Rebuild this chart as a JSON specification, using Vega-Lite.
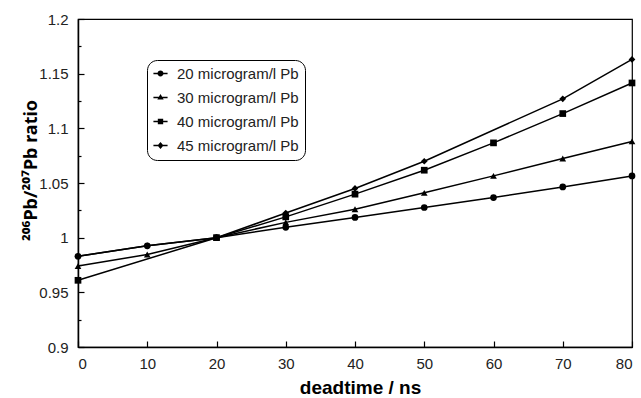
{
  "$schema": "https://vega.github.io/schema/vega-lite/v6.json",
  "autosize": {"type": "none"},
  "width": 554,
  "height": 328,
  "padding": {"left": 78, "top": 19, "right": 9, "bottom": 51},
  "background": "white",
  "config": {
    "view": {"stroke": "black", "strokeWidth": 1.2},
    "font": "Liberation Sans",
    "axis": {
      "domainColor": "black", "domainWidth": 1.5, "tickColor": "black", "tickWidth": 1.2,
      "labelFont": "Liberation Sans", "labelFontSize": 15, "labelColor": "#222",
      "titleFont": "Liberation Sans", "titleFontSize": 19, "titleFontWeight": "bold", "titleColor": "black",
      "grid": false
    }
  },
  "data": {
    "values": [
      {"t": 0, "r": 0.983, "s": "20 microgram/l Pb"},
      {"t": 10, "r": 0.9925, "s": "20 microgram/l Pb"},
      {"t": 20, "r": 1.0, "s": "20 microgram/l Pb"},
      {"t": 30, "r": 1.0095, "s": "20 microgram/l Pb"},
      {"t": 40, "r": 1.0185, "s": "20 microgram/l Pb"},
      {"t": 50, "r": 1.0276, "s": "20 microgram/l Pb"},
      {"t": 60, "r": 1.0367, "s": "20 microgram/l Pb"},
      {"t": 70, "r": 1.0464, "s": "20 microgram/l Pb"},
      {"t": 80, "r": 1.0565, "s": "20 microgram/l Pb"},
      {"t": 0, "r": 0.974, "s": "30 microgram/l Pb"},
      {"t": 10, "r": 0.9846, "s": "30 microgram/l Pb"},
      {"t": 20, "r": 1.0, "s": "30 microgram/l Pb"},
      {"t": 30, "r": 1.014, "s": "30 microgram/l Pb"},
      {"t": 40, "r": 1.026, "s": "30 microgram/l Pb"},
      {"t": 50, "r": 1.041, "s": "30 microgram/l Pb"},
      {"t": 60, "r": 1.0565, "s": "30 microgram/l Pb"},
      {"t": 70, "r": 1.0724, "s": "30 microgram/l Pb"},
      {"t": 80, "r": 1.088, "s": "30 microgram/l Pb"},
      {"t": 0, "r": 0.961, "s": "40 microgram/l Pb"},
      {"t": 20, "r": 1.0, "s": "40 microgram/l Pb"},
      {"t": 30, "r": 1.019, "s": "40 microgram/l Pb"},
      {"t": 40, "r": 1.0398, "s": "40 microgram/l Pb"},
      {"t": 50, "r": 1.0617, "s": "40 microgram/l Pb"},
      {"t": 60, "r": 1.0867, "s": "40 microgram/l Pb"},
      {"t": 70, "r": 1.1135, "s": "40 microgram/l Pb"},
      {"t": 80, "r": 1.1415, "s": "40 microgram/l Pb"},
      {"t": 0, "r": 0.983, "s": "45 microgram/l Pb"},
      {"t": 10, "r": 0.9925, "s": "45 microgram/l Pb"},
      {"t": 20, "r": 1.0, "s": "45 microgram/l Pb"},
      {"t": 30, "r": 1.0225, "s": "45 microgram/l Pb"},
      {"t": 40, "r": 1.045, "s": "45 microgram/l Pb"},
      {"t": 50, "r": 1.0699, "s": "45 microgram/l Pb"},
      {"t": 70, "r": 1.127, "s": "45 microgram/l Pb"},
      {"t": 80, "r": 1.163, "s": "45 microgram/l Pb"}
    ]
  },
  "encoding": {
    "x": {
      "field": "t", "type": "quantitative",
      "scale": {"domain": [0, 80], "nice": false},
      "axis": {
        "title": "deadtime / ns",
        "values": [0, 10, 20, 30, 40, 50, 60, 70, 80],
        "tickSize": -6, "labelPadding": 15,
        "titleX": 282, "titleY": 46, "titleBaseline": "alphabetic", "titleAlign": "center"
      }
    },
    "y": {
      "field": "r", "type": "quantitative",
      "scale": {"domain": [0.9, 1.2], "nice": false, "zero": false},
      "axis": {
        "title": "²⁰⁶Pb/²⁰⁷Pb ratio",
        "titleFont": "Noto Sans", "titleFontSize": 18,
        "values": [0.9, 0.925, 0.95, 0.975, 1.0, 1.025, 1.05, 1.075, 1.1, 1.125, 1.15, 1.175, 1.2],
        "labelExpr": "abs(datum.value*20 - round(datum.value*20)) < 0.001 ? format(datum.value, '~g') : ''",
        "tickSize": {"condition": {"test": "abs(datum.value*20 - round(datum.value*20)) < 0.001", "value": -6}, "value": -3},
        "labelPadding": 16,
        "titleX": -42, "titleY": 151, "titleAngle": -90, "titleAlign": "center", "titleBaseline": "alphabetic"
      }
    }
  },
  "layer": [
    {
      "mark": {"type": "line", "color": "black", "strokeWidth": 1.5},
      "encoding": {"detail": {"field": "s", "type": "nominal"}}
    },
    {
      "mark": {"type": "point", "filled": true, "color": "black", "opacity": 1, "size": 45},
      "encoding": {
        "shape": {
          "field": "s", "type": "nominal",
          "scale": {
            "domain": ["20 microgram/l Pb", "30 microgram/l Pb", "40 microgram/l Pb", "45 microgram/l Pb"],
            "range": ["circle", "triangle-up", "square", "diamond"]
          },
          "legend": null
        }
      }
    },
    {
      "transform": [{"filter": "datum.t < 0"}],
      "mark": {"type": "point", "filled": true, "color": "black", "opacity": 1},
      "encoding": {
        "shape": {
          "field": "s", "type": "nominal",
          "scale": {
            "domain": ["20 microgram/l Pb", "30 microgram/l Pb", "40 microgram/l Pb", "45 microgram/l Pb"],
            "range": [
              "M-1,-0.1H1V0.1H-1ZM-0.42,0A0.42,0.42,0,1,1,0.42,0A0.42,0.42,0,1,1,-0.42,0Z",
              "M-1,-0.1H1V0.1H-1ZM0,-0.5L0.45,0.3L-0.45,0.3Z",
              "M-1,-0.1H1V0.1H-1ZM-0.38,-0.38H0.38V0.38H-0.38Z",
              "M-1,-0.1H1V0.1H-1ZM0,-0.5L0.42,0L0,0.5L-0.42,0Z"
            ]
          },
          "legend": {
            "title": null, "orient": "none", "legendX": 69, "legendY": 41,
            "strokeColor": "black", "cornerRadius": 10, "padding": 6,
            "symbolSize": 200, "symbolFillColor": "black", "symbolStrokeColor": "black", "symbolStrokeWidth": 0,
            "symbolOpacity": 1,
            "labelFont": "Liberation Sans", "labelFontSize": 15, "labelColor": "#222", "labelOffset": 9,
            "rowPadding": 8
          }
        }
      }
    }
  ],
  "resolve": {"scale": {"shape": "independent"}, "legend": {"shape": "independent"}}
}
